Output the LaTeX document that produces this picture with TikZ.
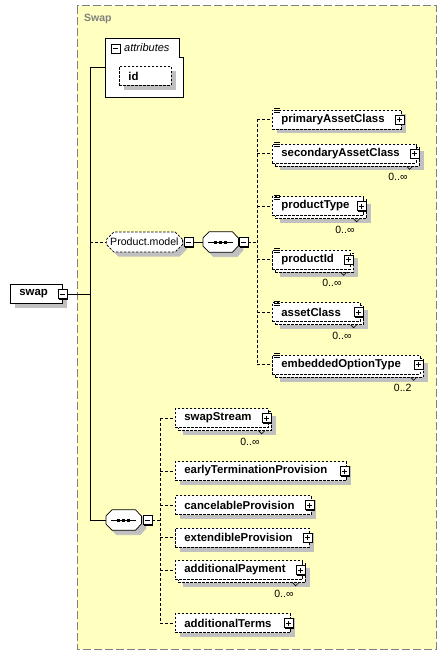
\documentclass[tikz,border=0pt]{standalone}
\usepackage{fontspec}
\setmainfont{Liberation Sans}
\usetikzlibrary{shapes.misc,shadows}
\definecolor{panel}{RGB}{255,255,192}
\definecolor{shadegray}{RGB}{192,192,192}
\definecolor{rim}{RGB}{128,128,128}

\begin{document}
\begin{tikzpicture}[x=1pt, y=-1pt,
  wire/.style={line width=0.8pt},
  link/.style={line width=0.8pt, dash pattern=on 3pt off 2pt},
  shadowed/.style={drop shadow={shadow xshift=4.5pt, shadow yshift=-4.5pt, fill=shadegray, opacity=1}},
  box/.style={draw, fill=white, line width=0.7pt, anchor=west, minimum height=19pt,
    inner xsep=9pt, inner ysep=0pt, align=left, font=\fontsize{11.4}{13}\selectfont\bfseries},
  opt/.style={box, dash pattern=on 2.5pt off 1.5pt},
  occ/.style={inner sep=0pt, font=\fontsize{10.5}{12}\selectfont},
  toggle/.style={draw, fill=white, line width=0.6pt, minimum size=9pt, inner sep=0pt,
    drop shadow={shadow xshift=1pt, shadow yshift=-1pt, fill=black, opacity=1}},
  xminus/.style={toggle, path picture={
    \draw ([xshift=2pt]path picture bounding box.west) -- ([xshift=-2pt]path picture bounding box.east);}},
  xplus/.style={toggle, path picture={
    \draw ([xshift=2pt]path picture bounding box.west) -- ([xshift=-2pt]path picture bounding box.east);
    \draw ([yshift=2pt]path picture bounding box.south) -- ([yshift=-2pt]path picture bounding box.north);}},
  grp/.style={chamfered rectangle, chamfered rectangle xsep=4pt, draw, fill=white, line width=0.7pt,
    dash pattern=on 2.5pt off 1.5pt, anchor=west, minimum width=75pt, minimum height=20pt,
    inner sep=0pt, font=\fontsize{10.6}{12}\selectfont, shadowed},
  seq/.style={anchor=west, minimum width=35pt, minimum height=20pt, inner sep=0pt}
]
  \useasboundingbox (0,0) rectangle (446,655);
  \draw[rim, fill=panel, line width=1pt, dash pattern=on 8pt off 3pt] (77,6) rectangle (436,649);
  \node[anchor=west, inner sep=0pt, text=rim, font=\fontsize{10.5}{12}\selectfont\bfseries] (title) at (84,19) {Swap};

  \coordinate (trunk) at (90,0);
  \coordinate (railA) at (257,0);
  \coordinate (railB) at (160,0);

  % root element
  \node[box, shadowed, text width=34pt] (swap) at (10,294) {swap};
  \node[xminus] (swap-x) at (swap.east) {};

  % attributes
  \node[anchor=north west, minimum width=78pt, minimum height=59pt, inner sep=0pt] (attr) at (105,38) {};
  \draw[line width=0.7pt, fill=white] (attr.north west) -- ([xshift=-4pt]attr.north east) -- ++(0,19)
    -- ++(4,0) -- (attr.south east) -- (attr.south west) -- cycle;
  \node[xminus] (attr-x) at (115.5,48.5) {};
  \node[anchor=west, inner sep=0pt, font=\fontsize{11}{13}\selectfont\itshape] (attr-t) at (124,48) {attributes};
  \node[opt, shadowed, text width=34pt] (id) at (119,76) {id};

  % group and sequences
  \node[grp] (model) at (106,242) {Product.model};
  \node[xminus] (model-x) at ([xshift=6pt]model.east) {};
  \node[seq] (seqA) at (203,242) {};
  \node[seq] (seqB) at (106,520) {};
  \foreach \s in {seqA,seqB} {
    \foreach \f/\c/\e in {shadegray/4.5/shadegray, white/0/black}
      \filldraw[fill=\f, draw=\e, line width=0.7pt, transform canvas={shift={(\c,\c)}}]
        ([yshift=4pt]\s.west) -- ([xshift=6pt]\s.north west) -- ([xshift=-6pt]\s.north east)
        -- ([yshift=4pt]\s.east) -- ([yshift=-4pt]\s.east) -- ([xshift=-6pt]\s.south east)
        -- ([xshift=6pt]\s.south west) -- ([yshift=-4pt]\s.west) -- cycle;
    \draw[line width=0.8pt] ([xshift=-12.5pt]\s.center) -- ([xshift=12.5pt]\s.center);
    \foreach \d in {-5,0,5}
      \fill ([shift={(\d-1.75,-1.5)}]\s.center) rectangle ++(3.5,3);
  }
  \node[xminus] (seqA-x) at ([xshift=5pt]seqA.east) {};
  \node[xminus] (seqB-x) at ([xshift=6pt]seqB.east) {};

  % connectors
  \draw[wire] (swap-x.east) -- (swap-x.east -| trunk);
  \draw[wire] (trunk |- attr.west) -- (trunk |- seqB.west);
  \draw[wire] (trunk |- attr.west) -- (attr.west);
  \draw[link] (trunk |- model.west) -- (model.west);
  \draw[wire] (trunk |- seqB.west) -- (seqB.west);
  \draw[wire] (model-x.east) -- (seqA.west);
  \draw[link] (seqA-x.east) -- (seqA-x.east -| railA);
  \draw[link] (seqB-x.east) -- (seqB-x.east -| railB);

  % child elements: name/text/rail/y/width/repeated/occurrence
  \foreach \n/\t/\r/\y/\w/\m/\o in {
      pac/primaryAssetClass/railA/119.5/129/0/-,
      sac/secondaryAssetClass/railA/153.5/144/1/0..∞,
      pty/productType/railA/206/91/1/0..∞,
      pid/productId/railA/259.5/78/1/0..∞,
      acl/assetClass/railA/312/88/1/0..∞,
      eot/embeddedOptionType/railA/364.5/148/1/0..2,
      sws/swapStream/railB/418/93/1/0..∞,
      etp/earlyTerminationProvision/railB/471/171/0/-,
      cnp/cancelableProvision/railB/505/136/0/-,
      exp/extendibleProvision/railB/537.5/134/0/-,
      adp/additionalPayment/railB/570/127/1/0..∞,
      adt/additionalTerms/railB/623/115/0/-} {
    \pgfmathsetmacro\tw{\w-18}
    \ifnum\m=1
      \node[opt, shadowed, text width=\tw pt] (\n-b) at ([shift={(18,\y+3)}]\r) {};
      \node[opt, text width=\tw pt] (\n) at ([shift={(15,\y)}]\r) {\t};
      \node[occ, anchor=east] (\n-o) at ([shift={(-9,14)}]\n.south east) {\o};
      \draw[line width=0.6pt] ([xshift=-13pt]\n-b.south east) -- ++(3,3) -- ++(3,-3);
    \else
      \node[opt, shadowed, text width=\tw pt] (\n) at ([shift={(15,\y)}]\r) {\t};
    \fi
    \node[xplus] (\n-x) at ([xshift=-2pt]\n.east) {};
    \draw[link] (\r |- \n.west) -- (\n.west);
  }
  \draw[link] (railA |- pac.west) -- (railA |- eot.west);
  \draw[link] (railB |- sws.west) -- (railB |- adt.west);

  % list icon on the product elements
  \foreach \n in {pac,sac,pty,pid,acl,eot}
    \foreach \k in {0,2,4}
      \draw[line width=0.6pt] ([shift={(2,\k-1)}]\n.north west) -- ++(6,0);
\end{tikzpicture}
\end{document}
